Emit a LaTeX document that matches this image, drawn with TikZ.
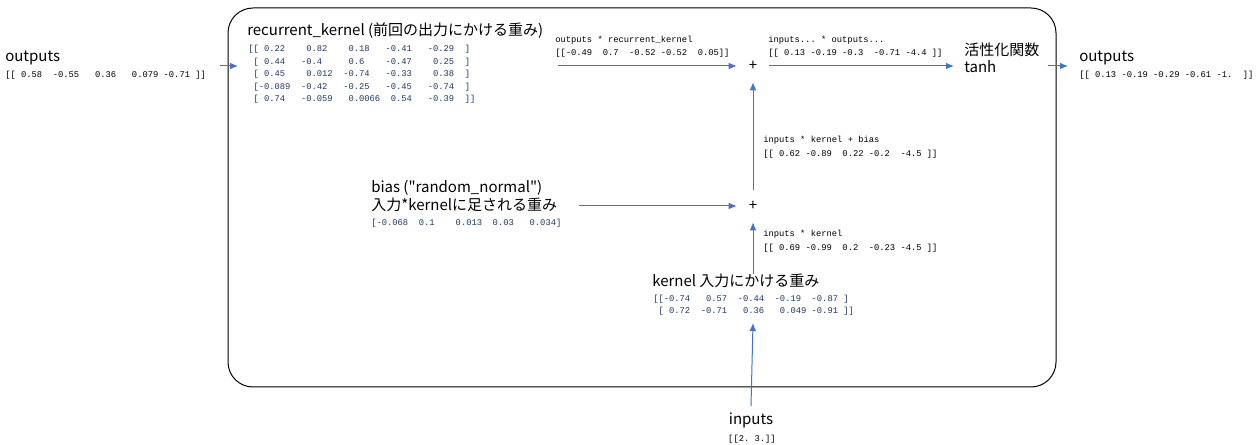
\documentclass[tikz,border=0pt]{standalone}
\usepackage{fontspec}
\setmainfont{Noto Sans CJK JP}
\setmonofont{Liberation Mono}
\usepackage{xcolor}
\usetikzlibrary{arrows.meta,positioning,calc}

\definecolor{arrowblue}{HTML}{4472C4}
\definecolor{valblue}{HTML}{203864}

\tikzset{
  lbl/.style={anchor=base west, inner sep=0pt, align=left,
    font=\fontsize{11.25}{13.5}\selectfont},
  vals/.style={anchor=base west, inner sep=0pt, align=left,
    font=\fontsize{6.6}{9.4}\selectfont\ttfamily},
  mat/.style={vals, text=valblue},
  plus/.style={circle, inner sep=0pt, minimum size=24pt,
    font=\fontsize{11.25}{13.5}\selectfont},
  arr/.style={arrowblue, line width=0.75pt, -{Latex[length=6pt,width=5pt]}}
}

\begin{document}
\begin{tikzpicture}[x=0.75pt, y=-0.75pt]
    \useasboundingbox (0,0) rectangle (1258,445);
    \draw[line width=0.75pt, rounded corners=18.75pt] (228,8) rectangle (1056,387);

    % outputs of the previous step
    \node[lbl] (outL) at (5,62) {outputs};
    \node[vals] (outvL) at (5,78) {[[~0.58~~-0.55~~~0.36~~~0.079~-0.71~]]};

    % recurrent kernel
    \node[lbl] (rklab) at (247,36) {recurrent\_kernel (前回の出力にかける重み)};
    \node[mat, font=\fontsize{6.6}{9.375}\selectfont\ttfamily] (rkmat) at (248,102)
      {[[~0.22~~~~0.82~~~~0.18~~~-0.41~~~-0.29~~]\\
       ~[~0.44~~~-0.4~~~~~0.6~~~~-0.47~~~~0.25~~]\\
       ~[~0.45~~~~0.012~~-0.74~~~-0.33~~~~0.38~~]\\
       ~[-0.089~~-0.42~~~-0.25~~~-0.45~~~-0.74~~]\\
       ~[~0.74~~~-0.059~~~0.0066~~0.54~~~-0.39~~]]};

    \node[vals] (orklab) at (555,43) {outputs * recurrent\_kernel};
    \node[vals] (orkval) at (555,56) {[[-0.49~~0.7~~-0.52~-0.52~~0.05]]};

    \node[plus] (plusA) at (753,66) {+};

    \node[vals] (iolab) at (768,43) {inputs... * outputs...};
    \node[vals] (ioval) at (768,56) {[[~0.13~-0.19~-0.3~~-0.71~-4.4~]]};

    % activation
    \node[lbl, font=\fontsize{11.25}{12.75}\selectfont] (act) at (964,73) {活性化関数\\tanh};

    \node[lbl] (outR) at (1079,62) {outputs};
    \node[vals] (outvR) at (1079,78) {[[~0.13~-0.19~-0.29~-0.61~-1.~~]]};

    % bias
    \node[vals] (ikblab) at (763,143) {inputs * kernel + bias};
    \node[vals] (ikbval) at (763,157) {[[~0.62~-0.89~~0.22~-0.2~~-4.5~]]};

    \node[lbl] (bias) at (371,211)
      {bias (\textquotedbl random\_normal\textquotedbl)\\入力*kernelに足される重み};
    \node[mat] (biasval) at (371,226) {[-0.068~~0.1~~~~0.013~~0.03~~~0.034]};

    \node[plus] (plusB) at (753,206) {+};

    \node[vals] (iklab) at (763,237) {inputs * kernel};
    \node[vals] (ikval) at (763,251) {[[~0.69~-0.99~~0.2~~-0.23~-4.5~]]};

    % kernel
    \node[lbl] (klab) at (652,287) {kernel 入力にかける重み};
    \node[mat, font=\fontsize{6.6}{9}\selectfont\ttfamily] (kmat) at (653,314)
      {[[-0.74~~~0.57~~-0.44~~-0.19~~-0.87~]\\
       ~[~0.72~~-0.71~~~0.36~~~0.049~-0.91~]]};

    % inputs
    \node[lbl, anchor=base] (inp) at (751,425) {inputs};
    \node[vals, anchor=base] (inpval) at (752,442) {[[2.~3.]]};

    \coordinate (oLout) at (220,66);
    \coordinate (boxin) at (238,66);
    \coordinate (rkout) at (558,66);
    \coordinate (actin) at (954,66);
    \coordinate (actout) at (1048,66);
    \coordinate (outRin) at (1068,66);
    \coordinate (biasout) at (579,206);
    \coordinate (kin) at (753,323);

    \draw[arr] (oLout) -- (boxin);
    \draw[arr] (rkout) -- (plusA.west);
    \draw[arr] (plusA.east) -- (actin);
    \draw[arr] (actout) -- (outRin);
    \draw[arr] (plusB.north) -- (plusA.south);
    \draw[arr] (biasout) -- (plusB.west);
    \draw[arr] (klab.north -| plusB) -- (plusB.south);
    \draw[arr] ($(inp.north)+(0,-7)$ -| plusB) -- (kin);
  \end{tikzpicture}
\end{document}
